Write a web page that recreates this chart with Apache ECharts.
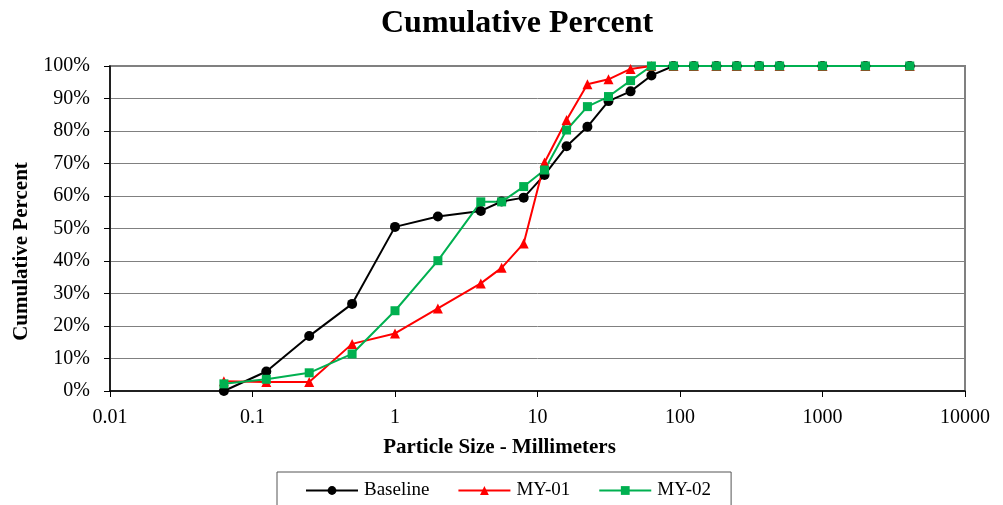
<!DOCTYPE html>
<html>
<head>
<meta charset="utf-8">
<script src="https://cdn.jsdelivr.net/npm/echarts@6/dist/echarts.min.js"></script>
<style>
  html, body { margin: 0; padding: 0; background: #fff; }
  #chart { width: 1003px; height: 505px; }
</style>
</head>
<body>
<div id="chart"></div>
<script>
// sieve sizes (mm)
const sizes = [0.063, 0.125, 0.25, 0.5, 1, 2, 4, 5.6, 8, 11.2, 16, 22.4, 31.5, 45, 63, 90, 125, 180, 250, 360, 500, 1000, 2000, 4096];

// cumulative percent passing
const baseline = [0, 6, 16.9, 26.8, 50.5, 53.7, 55.4, 58.3, 59.5, 66.5, 75.3, 81.3, 89.2, 92.2, 97.1, 100, 100, 100, 100, 100, 100, 100, 100, 100];
const my01 = [3, 2.8, 2.8, 14.5, 17.7, 25.4, 33.1, 37.9, 45.4, 70.3, 83.4, 94.4, 95.9, 99.1, 100, 100, 100, 100, 100, 100, 100, 100, 100, 100];
const my02 = [2.2, 3.6, 5.6, 11.4, 24.7, 40.1, 58.2, 58.2, 62.9, 68, 80.3, 87.5, 90.6, 95.5, 100, 100, 100, 100, 100, 100, 100, 100, 100, 100];

const xTicks = ['0.01', '0.1', '1', '10', '100', '1000', '10000'];

const pairs = vals => sizes.map((s, i) => [s, vals[i]]);

const chart = echarts.init(document.getElementById('chart'));
const font = '"Liberation Serif", "Times New Roman", serif';

chart.setOption({
  animation: false,
  textStyle: { fontFamily: font, color: '#000' },
  title: {
    text: 'Cumulative Percent',
    left: 376,
    top: 3,
    textStyle: { fontFamily: font, fontSize: 32, fontWeight: 'bold', color: '#000' }
  },
  grid: {
    left: 110, right: 38, top: 66, bottom: 114,
    outerBoundsMode: 'none',
    containLabel: false,
    show: true, borderColor: '#808080', borderWidth: 2
  },
  legend: {
    top: 472,
    left: 277,
    width: 460,
    padding: [9, 20, 12, 28],
    itemGap: 28,
    itemWidth: 52,
    itemHeight: 11,
    borderColor: '#555',
    borderWidth: 1,
    textStyle: { fontFamily: font, fontSize: 19, color: '#000', padding: [0, 0, 0, 1] },
    data: ['Baseline', 'MY-01', 'MY-02']
  },
  xAxis: {
    type: 'log',
    logBase: 10,
    min: 0.01,
    max: 10000,
    name: 'Particle Size - Millimeters',
    nameLocation: 'middle',
    nameGap: 46,
    nameTextStyle: { fontFamily: font, fontSize: 21, fontWeight: 'bold', color: '#000', padding: [0, 76, 0, 0] },
    axisLine: { lineStyle: { color: '#000', width: 1.5 } },
    axisTick: { show: true, inside: false, length: 6, lineStyle: { color: '#000' } },
    axisLabel: {
      fontFamily: font, fontSize: 20, color: '#000', margin: 17,
      formatter: v => {
        const i = Math.round(Math.log10(v)) + 2;
        return xTicks[i] !== undefined ? xTicks[i] : '';
      }
    },
    splitLine: { show: false }
  },
  yAxis: {
    type: 'value',
    min: 0,
    max: 100,
    interval: 10,
    name: 'Cumulative Percent',
    nameLocation: 'middle',
    nameGap: 74,
    nameTextStyle: { fontFamily: font, fontSize: 21, fontWeight: 'bold', color: '#000', padding: [0, 46, 0, 0] },
    axisLine: { show: true, lineStyle: { color: '#000', width: 1.5 } },
    axisTick: { show: true, inside: false, length: 6, lineStyle: { color: '#000' } },
    axisLabel: { fontFamily: font, fontSize: 20, color: '#000', margin: 20, formatter: '{value}%' },
    splitLine: { show: true, lineStyle: { color: '#808080', width: 1 } }
  },
  series: [
    {
      name: 'Baseline',
      type: 'line',
      data: pairs(baseline),
      symbol: 'circle',
      symbolSize: 10,
      lineStyle: { color: '#000', width: 2 },
      itemStyle: { color: '#000' }
    },
    {
      name: 'MY-01',
      type: 'line',
      data: pairs(my01),
      symbol: 'triangle',
      symbolSize: 10,
      lineStyle: { color: '#ff0000', width: 2 },
      itemStyle: { color: '#ff0000' }
    },
    {
      name: 'MY-02',
      type: 'line',
      data: pairs(my02),
      symbol: 'rect',
      symbolSize: 9,
      lineStyle: { color: '#00b050', width: 2 },
      itemStyle: { color: '#00b050' }
    }
  ]
});
</script>
</body>
</html>
